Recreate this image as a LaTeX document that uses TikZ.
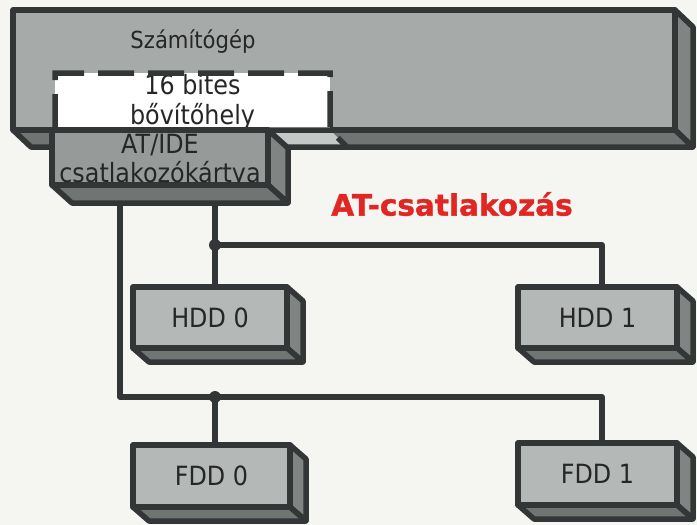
\documentclass[tikz,border=0pt]{standalone}
\usepackage{fontspec}
\setmainfont{DejaVu Sans}
\newfontfamily\labelfont{DejaVu Sans}[FakeStretch=0.9]
\newfontfamily\titlefont{DejaVu Sans Bold}[FakeBold=1.2]
\definecolor{paper}{RGB}{245,245,241}
\definecolor{ink}{RGB}{50,54,54}
\definecolor{pcgray}{RGB}{166,170,168}
\definecolor{cardgray}{RGB}{150,155,153}
\definecolor{devgray}{RGB}{180,184,182}
\definecolor{sidegray}{RGB}{128,133,131}
\definecolor{botgray}{RGB}{112,117,115}
\definecolor{floorgray}{RGB}{196,200,198}
\definecolor{atred}{RGB}{226,38,36}
\pgfdeclarelayer{bg}
\pgfdeclarelayer{wires}
\pgfsetlayers{bg,wires,main}
\tikzset{
  edge/.style={draw=ink, line width=5.5pt, line join=round},
  face/.style={edge, inner sep=0pt, outer sep=0pt, text=black!85},
  wire/.style={draw=ink, line width=5.5pt, line join=round},
  slotdash/.style={draw=ink, line width=5.5pt, dash pattern=on 36pt off 14pt},
  devtext/.style={font=\labelfont\fontsize{26.5}{27}\selectfont},
}
\newcommand{\devbox}[6]{%
  \node[face, fill=devgray, devtext, anchor=north west, minimum width=#4pt, minimum height=#5pt] (#1) at (#2,#3) {#6};
  \draw[edge, fill=sidegray] (#1.north east) -- ++(16,14) -- ++(0,#5) -- (#1.south east) -- cycle;
  \draw[edge, fill=botgray] (#1.south west) -- (#1.south east) -- ++(16,14) -- ++(-#4,0) -- cycle;
}
\begin{document}
\begin{tikzpicture}[x=1pt,y=-1pt]
\begin{pgfonlayer}{bg}
\fill[paper] (0,0) rectangle (697,525);
\end{pgfonlayer}
\useasboundingbox (0,0) rectangle (697,525);

% computer
\node[face, fill=pcgray, anchor=north west, minimum width=662pt, minimum height=120pt] (pc) at (13,10) {};
\node[fill=white, inner sep=0pt, outer sep=0pt, anchor=north west, minimum width=275pt, minimum height=57pt, devtext, text=black!85] (slot) at (55,73) {\raisebox{-8.2pt}[0pt][0pt]{\begin{tabular}{@{}c@{}}16 bites\\bővítőhely\end{tabular}}};
\node[font=\labelfont\fontsize{23.5}{24}\selectfont, text=black!85] (pclabel) at (193,42) {Számítógép};
\draw[edge, fill=sidegray] (pc.north east) -- ++(18,17) -- ++(0,120) -- (pc.south east) -- cycle;
\fill[botgray] (pc.south west) -- (pc.south east) -- ++(18,17) -- ++(-662,0) -- cycle;
\fill[floorgray] (slot.south west) -- (slot.south east) -- ++(17,17) -- ++(-275,0) -- cycle;
\draw[edge] (pc.south west) -- (pc.south east) -- ++(18,17) -- ++(-662,0) -- cycle;
\draw[slotdash] (slot.south west) -- (slot.north west) -- (slot.north east) -- (slot.south east) -- ++(17,17);

% card
\node[face, fill=cardgray, anchor=north west, minimum width=216pt, minimum height=55pt, font=\labelfont\fontsize{26.5}{25.5}\selectfont] (card) at (52,130) {\raisebox{-10.8pt}[0pt][0pt]{\begin{tabular}{@{}c@{}}AT/IDE\\csatlakozókártya\end{tabular}}};
\draw[edge, fill=sidegray] (card.north east) -- ++(20,18) -- ++(0,55) -- (card.south east) -- cycle;
\draw[edge, fill=botgray] (card.south west) -- (card.south east) -- ++(20,18) -- ++(-216,0) -- cycle;

% title
\node[font=\titlefont\fontsize{29.5}{31}\selectfont, text=atred] (title) at (452,204) {AT-csatlakozás};

% devices
\devbox{hdd0}{133}{287}{154}{61}{HDD 0}
\devbox{hdd1}{518}{287}{159}{61}{HDD 1}
\devbox{fdd0}{133}{445}{157}{62}{FDD 0}
\devbox{fdd1}{518}{443}{159}{62}{FDD 1}

% wires
\coordinate (ja) at (120,397);
\coordinate (j1) at (215,245);
\coordinate (j2) at (215,397);
\coordinate (k1) at (602,245);
\coordinate (k2) at (602,397);
\begin{pgfonlayer}{wires}
\draw[wire] (card.south -| ja) -- (ja) -- (k2) -- (k2 |- fdd1.north);
\draw[wire] (j2) -- (j2 |- fdd0.north);
\draw[wire] (card.south -| j1) -- (j1 |- hdd0.north);
\draw[wire] (j1) -- (k1) -- (k1 |- hdd1.north);
\end{pgfonlayer}
\fill[ink] (j1) circle (6pt);
\fill[ink] (j2) circle (6pt);
\end{tikzpicture}
\end{document}
